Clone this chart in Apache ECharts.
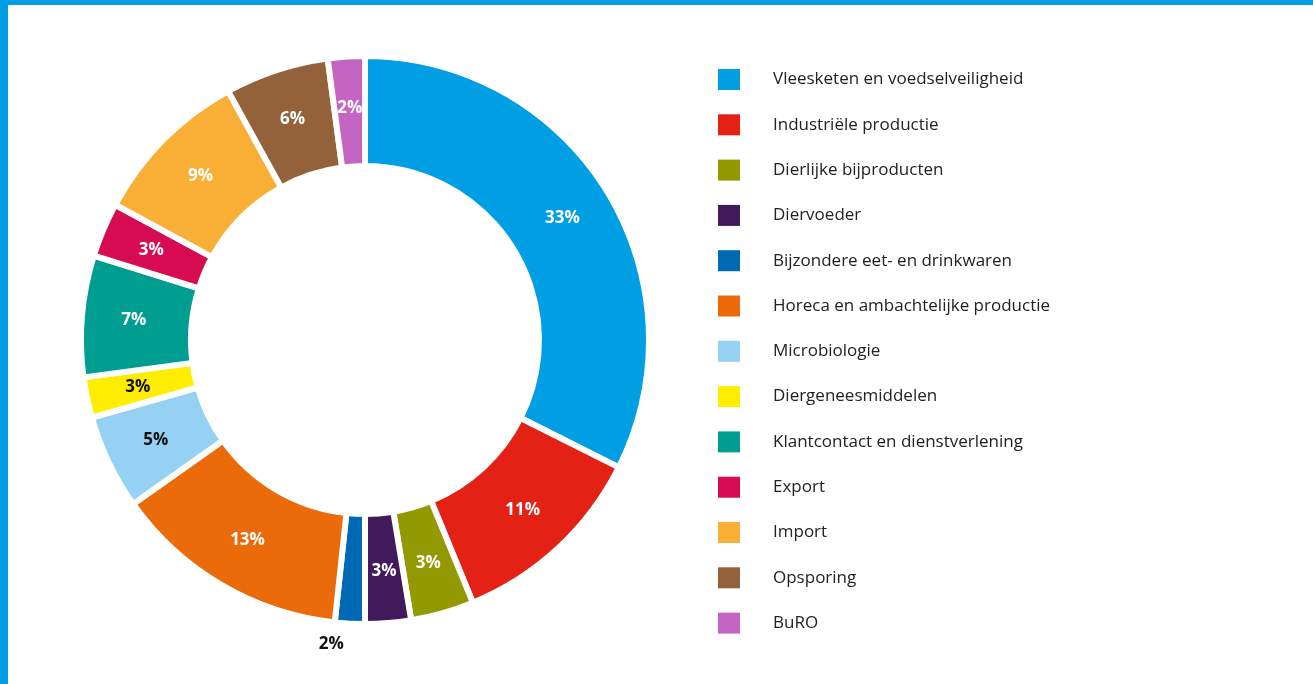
<!DOCTYPE html>
<html>
<head>
<meta charset="utf-8">
<script src="https://cdn.jsdelivr.net/npm/echarts@6/dist/echarts.min.js"></script>
<style>
html,body{margin:0;padding:0;background:#fff;}
#c{width:1313px;height:684px;}
</style>
</head>
<body>
<div id="c"></div>
<script>
const categories = ["Vleesketen en voedselveiligheid","Industriële productie","Dierlijke bijproducten","Diervoeder","Bijzondere eet- en drinkwaren","Horeca en ambachtelijke productie","Microbiologie","Diergeneesmiddelen","Klantcontact en dienstverlening","Export","Import","Opsporing","BuRO"];
const values = [32.4, 11.4, 3.6, 2.6, 1.7, 13.5, 5.4, 2.3, 6.9, 3.1, 9.1, 5.9, 2.1];
const pctLabels = ["33%","11%","3%","3%","2%","13%","5%","3%","7%","3%","9%","6%","2%"];
const colors = ["#009FE3","#E42115","#939900","#42195B","#0069B4","#EB6B0A","#94D1F2","#FFED00","#009E91","#D60B52","#F9AE36","#94623A","#C465C3"];
const darkLabel = [false,false,false,false,true,false,true,true,false,false,false,false,false];

const chart = echarts.init(document.getElementById('c'));
const data = categories.map((n,i)=>{
  const d = {name:n, value:values[i], itemStyle:{color:colors[i]},
    label:{color: darkLabel[i] ? '#111' : '#fff'}};
  if(i===4){
    d.label = {position:'outside', color:'#111', distance: 10};
    d.labelLine = {show:false, length:21, length2:0};
  }
  return d;
});
chart.setOption({
  animation:false,
  graphic:[
    {type:'rect', shape:{x:0,y:0,width:1313,height:5}, style:{fill:'#009FE3'}},
    {type:'rect', shape:{x:0,y:0,width:8,height:684}, style:{fill:'#009FE3'}}
  ],
  legend:{
    orient:'vertical', left:713, top:64,
    icon:'rect', itemWidth:22, itemHeight:21, itemGap:24.3,
    selectedMode:false,
    itemStyle:{borderWidth:0},
    textStyle:{fontFamily:'Open Sans', fontSize:17, color:'#222', padding:[0,0,0,28]},
    data:categories
  },
  series:[{
    type:'pie',
    center:[365,340],
    radius:[174,284],
    startAngle:90,
    clockwise:true,
    avoidLabelOverlap:false,
    itemStyle:{borderColor:'#fff', borderWidth:6},
    label:{show:true, position:'inside', fontFamily:'Open Sans', fontWeight:'bold', fontSize:17,
      formatter:(p)=>pctLabels[p.dataIndex]},
    labelLine:{show:false},
    emphasis:{disabled:true},
    data:data
  }]
});
</script>
</body>
</html>
